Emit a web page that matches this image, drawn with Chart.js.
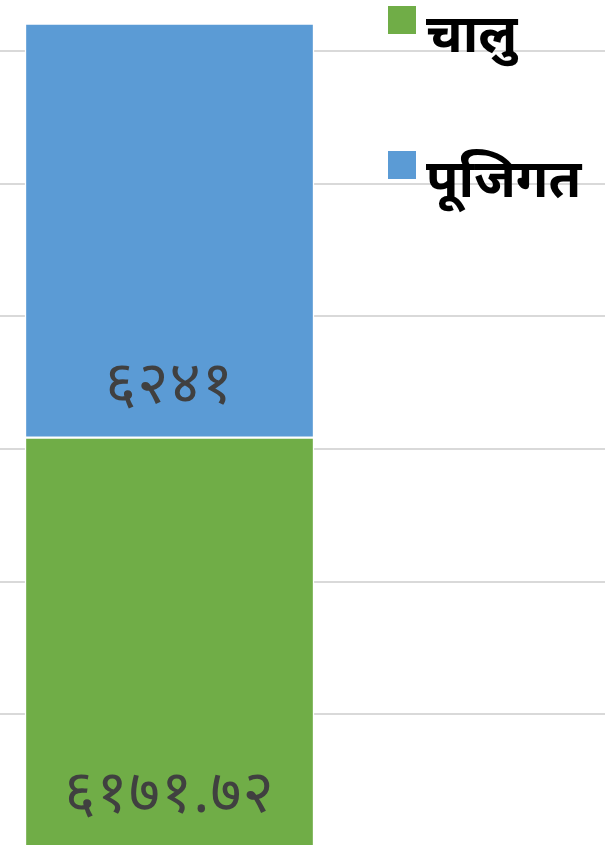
<!DOCTYPE html>
<html>
<head>
<meta charset="utf-8">
<script src="https://cdn.jsdelivr.net/npm/chart.js@4.4.0/dist/chart.umd.min.js"></script>
<style>
  html, body { margin: 0; padding: 0; width: 605px; height: 845px; overflow: hidden; background: #ffffff; }
  #wrap { position: absolute; left: -300px; top: 0; width: 939px; height: 847px; }
</style>
</head>
<body>
<div id="wrap"><canvas id="c" width="939" height="847"></canvas></div>
<script>
// ---- data ----
const categories = ['खर्च'];
const seriesNames = ['चालु', 'पूजिगत'];
const currentValues = [6171.72];   // चालु
const capitalValues = [6241];      // पूजिगत
const valueLabels = [['६१७१.७२'], ['६२४१']];
const gridValues = [2000, 4000, 6000, 8000, 10000, 12000];

const FONT = '"Noto Sans Devanagari", "Lohit Devanagari", "FreeSans", "Noto Sans", sans-serif';
const PAGE_OFFSET_X = 300;

const labelPlugin = {
  id: 'insideBaseLabels',
  afterDatasetsDraw(chart) {
    const ctx = chart.ctx;
    ctx.save();
    ctx.fillStyle = '#404040';
    ctx.font = '60px ' + FONT;
    if ('letterSpacing' in ctx) ctx.letterSpacing = '1px';
    ctx.textAlign = 'center';
    ctx.textBaseline = 'middle';
    chart.data.datasets.forEach((ds, di) => {
      const meta = chart.getDatasetMeta(di);
      meta.data.forEach((bar, i) => {
        ctx.fillText(valueLabels[di][i], bar.x, bar.base - 46);
      });
    });
    ctx.restore();
  }
};

const legendPlugin = {
  id: 'overlayLegend',
  afterDraw(chart) {
    const ctx = chart.ctx;
    ctx.save();
    const rows = [{ box: 6, base: 52 }, { box: 151, base: 197 }];
    chart.data.datasets.forEach((ds, di) => {
      const r = rows[di];
      ctx.fillStyle = ds.backgroundColor;
      ctx.fillRect(PAGE_OFFSET_X + 388, r.box, 28, 28);
      ctx.fillStyle = '#000000';
      ctx.font = 'bold 53px ' + FONT;
      ctx.textAlign = 'left';
      ctx.textBaseline = 'alphabetic';
      ctx.fillText(ds.label, PAGE_OFFSET_X + 426, r.base);
    });
    ctx.restore();
  }
};

new Chart(document.getElementById('c'), {
  type: 'bar',
  data: {
    labels: categories,
    datasets: [
      { label: seriesNames[0], data: currentValues, backgroundColor: '#70AD47', borderColor: '#ffffff', borderWidth: 1.5, borderSkipped: false, barThickness: 289 },
      { label: seriesNames[1], data: capitalValues, backgroundColor: '#5B9BD5', borderColor: '#ffffff', borderWidth: 1.5, borderSkipped: false, barThickness: 289 }
    ]
  },
  options: {
    responsive: false,
    animation: false,
    layout: { padding: 0 },
    plugins: { legend: { display: false }, tooltip: { enabled: false } },
    scales: {
      x: { stacked: true, display: false },
      y: {
        stacked: true,
        position: 'right',
        min: 0,
        max: 12768,
        afterFit: (s) => { s.width = 0; },
        afterBuildTicks: (s) => { s.ticks = gridValues.map(v => ({ value: v })); },
        ticks: { display: false },
        border: { display: false },
        grid: { color: '#d9d9d9', lineWidth: 2, drawTicks: false }
      }
    }
  },
  plugins: [labelPlugin, legendPlugin]
});
</script>
</body>
</html>
